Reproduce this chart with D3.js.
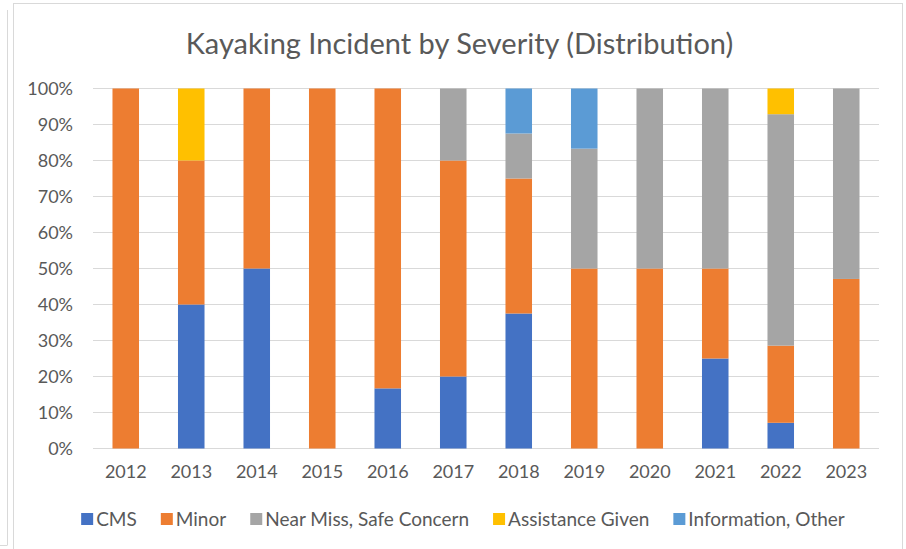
<!DOCTYPE html>
<html>
<head>
<meta charset="utf-8">
<script src="https://cdn.jsdelivr.net/npm/d3@7"></script>
<style>
  body { margin: 0; background: #fff; }
  svg { display: block; font-family: Lato, "Open Sans", sans-serif; }
</style>
</head>
<body>
<svg id="chart" width="906" height="549"></svg>
<script>
// Data (percent of incidents per year)
const years = ["2012", "2013", "2014", "2015", "2016", "2017", "2018", "2019", "2020", "2021", "2022", "2023"];
const cms = [0, 40, 50, 0, 16.7, 20, 37.5, 0, 0, 25, 7.14, 0];
const minor = [100, 40, 50, 100, 83.3, 60, 37.5, 50, 50, 25, 21.43, 47.1];
const nearMiss = [0, 0, 0, 0, 0, 20, 12.5, 33.3, 50, 50, 64.29, 52.9];
const assistance = [0, 20, 0, 0, 0, 0, 0, 0, 0, 0, 7.14, 0];
const information = [0, 0, 0, 0, 0, 0, 12.5, 16.7, 0, 0, 0, 0];
const seriesNames = ["CMS", "Minor", "Near Miss, Safe Concern", "Assistance Given", "Information, Other"];
const seriesColors = ["#4472C4", "#ED7D31", "#A5A5A5", "#FFC000", "#5B9BD5"];
const yTicks = [0, 10, 20, 30, 40, 50, 60, 70, 80, 90, 100];

const seriesValues = [cms, minor, nearMiss, assistance, information];
const table = years.map((y, i) => {
  const row = { year: y };
  seriesNames.forEach((s, k) => row[s] = seriesValues[k][i]);
  return row;
});

const svg = d3.select("#chart");
const margin = { top: 88.5, right: 27, bottom: 100.5, left: 93 };
const width = 906, height = 549;
const textColor = "#595959";
const labelSize = "18px";

// chart frame
svg.append("line")
  .attr("x1", 7.5).attr("x2", 7.5).attr("y1", 10).attr("y2", 545)
  .attr("stroke", "#d9d9d9");
svg.append("line")
  .attr("x1", 0).attr("x2", 7.5).attr("y1", 545.5).attr("y2", 545.5)
  .attr("stroke", "#d9d9d9");
svg.append("rect")
  .attr("x", 13.5).attr("y", 3.5).attr("width", 889).attr("height", 560)
  .attr("fill", "#fff").attr("stroke", "#d9d9d9");

const x = d3.scaleBand()
  .domain(years)
  .range([margin.left, width - margin.right])
  .paddingInner(0.595)
  .paddingOuter(0.2975);

const y = d3.scaleLinear()
  .domain([0, 100])
  .range([height - margin.bottom, margin.top]);

// gridlines
svg.append("g")
  .selectAll("line")
  .data(yTicks)
  .join("line")
  .attr("x1", margin.left)
  .attr("x2", width - margin.right)
  .attr("y1", d => y(d))
  .attr("y2", d => y(d))
  .attr("stroke", "#d9d9d9")
  .attr("stroke-width", 1);

// y axis labels
const yAxis = svg.append("g")
  .attr("transform", `translate(${margin.left - 20},0)`)
  .call(d3.axisLeft(y).tickValues(yTicks).tickFormat(d => d + "%").tickSize(0).tickPadding(0));
yAxis.select(".domain").remove();
yAxis.selectAll("text")
  .attr("fill", textColor)
  .style("font-size", labelSize)
  .style("font-family", "Lato, 'Open Sans', sans-serif");

// x axis labels
const xAxis = svg.append("g")
  .attr("transform", `translate(0,${height - margin.bottom})`)
  .call(d3.axisBottom(x).tickSize(0).tickPadding(17));
xAxis.select(".domain").remove();
xAxis.selectAll("text")
  .attr("fill", textColor)
  .style("font-size", labelSize)
  .style("font-family", "Lato, 'Open Sans', sans-serif");

// stacked bars
const stack = d3.stack().keys(seriesNames);
const stacked = stack(table);
const color = d3.scaleOrdinal().domain(seriesNames).range(seriesColors);

svg.append("g")
  .selectAll("g")
  .data(stacked)
  .join("g")
  .attr("fill", d => color(d.key))
  .selectAll("rect")
  .data(d => d.filter(p => p[1] - p[0] > 0))
  .join("rect")
  .attr("x", d => x(d.data.year))
  .attr("width", x.bandwidth())
  .attr("y", d => y(d[1]))
  .attr("height", d => y(d[0]) - y(d[1]));

// title
svg.append("text")
  .attr("x", 459.5)
  .attr("y", 54)
  .attr("text-anchor", "middle")
  .attr("fill", textColor)
  .style("font-size", "29px")
  .text("Kayaking Incident by Severity (Distribution)");

// legend
const legend = svg.append("g");
const items = legend.selectAll("g")
  .data(seriesNames)
  .join("g");
items.append("rect")
  .attr("width", 12).attr("height", 12)
  .attr("y", -6)
  .attr("fill", d => color(d));
items.append("text")
  .attr("x", 15)
  .attr("dy", "0.35em")
  .attr("fill", textColor)
  .style("font-size", "19px")
  .text(d => d);

const gap = 24;
const widths = items.nodes().map(n => n.getBBox().width);
const total = d3.sum(widths) + gap * (widths.length - 1);
let cx = 463 - total / 2;
items.attr("transform", (d, i) => {
  const t = `translate(${cx},519)`;
  cx += widths[i] + gap;
  return t;
});
</script>
</body>
</html>
